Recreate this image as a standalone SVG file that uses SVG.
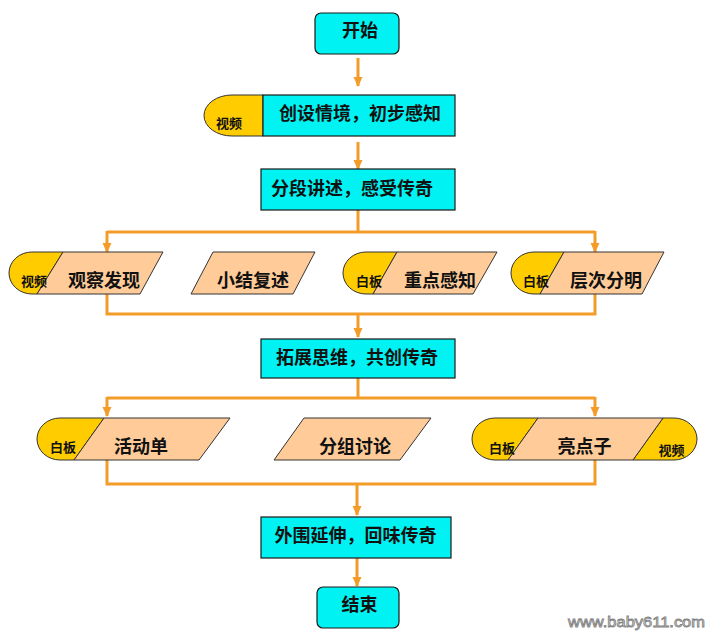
<svg xmlns="http://www.w3.org/2000/svg" width="715" height="639" viewBox="0 0 715 639">
<defs>
<marker id="ah" markerUnits="userSpaceOnUse" markerWidth="10" markerHeight="10" refX="9" refY="5" orient="auto">
<path d="M0,0.5 L10,5 L0,9.5 Z" fill="#F39C2A"/>
</marker>
<style>
.cy{fill:#00F2F2;stroke:#1a1a1a;stroke-width:1.2}
.pe{fill:#FFCC99;stroke:#333;stroke-width:1}
.ye{fill:#FFCC00;stroke:#333;stroke-width:1}
.t{font-family:"Noto Sans CJK SC","Noto Sans",sans-serif;font-weight:bold;font-size:18px;fill:#111;text-anchor:middle}
.s{font-family:"Noto Sans CJK SC","Noto Sans",sans-serif;font-weight:bold;font-size:13px;fill:#111;text-anchor:middle}
.c{fill:none;stroke:#F39C2A;stroke-width:3}
.a{fill:none;stroke:#F39C2A;stroke-width:3;marker-end:url(#ah)}
</style>
</defs>
<rect width="715" height="639" fill="#fff"/>
<g id="connectors">
<line class="a" x1="358" y1="58" x2="358" y2="86"/>
<line class="a" x1="358" y1="142" x2="358" y2="169"/>
<polyline class="c" points="358,210 358,232"/>
<polyline class="c" points="107,232 595,232"/>
<line class="a" x1="107" y1="231" x2="107" y2="252"/>
<line class="a" x1="595" y1="231" x2="595" y2="252"/>
<polyline class="c" points="107,294 107,314 595,314 595,294"/>
<line class="a" x1="358" y1="313" x2="358" y2="337"/>
<polyline class="c" points="358,378 358,398"/>
<polyline class="c" points="107,398 595,398"/>
<line class="a" x1="107" y1="397" x2="107" y2="416"/>
<line class="a" x1="595" y1="397" x2="595" y2="416"/>
<polyline class="c" points="107,460 107,484 595,484 595,460"/>
<line class="a" x1="357" y1="483" x2="357" y2="515"/>
<line class="a" x1="357" y1="558" x2="357" y2="586"/>
</g>
<g id="start">
<rect class="cy" x="315" y="13" width="84" height="41" rx="6"/>
<text class="t" x="360" y="36.5">开始</text>
</g>
<g id="n1">
<path class="ye" d="M263,95 L232,95 A28,20.5 0 0 0 232,136 L263,136 Z"/>
<rect class="cy" x="263" y="95" width="192" height="41"/>
<text class="s" x="229" y="128">视频</text>
<text class="t" x="360" y="120">创设情境，初步感知</text>
</g>
<g id="n2">
<rect class="cy" x="261" y="169" width="194" height="41"/>
<text class="t" x="352" y="194.5">分段讲述，感受传奇</text>
</g>
<g id="r1a">
<path class="ye" d="M63,252 L32,252 A23,21 0 0 0 32,294 L37,294 Z"/>
<path class="pe" d="M63,252 L163,252 L140,294 L37,294 Z"/>
<text class="s" x="34" y="285.5">视频</text>
<text class="t" x="104" y="286.5">观察发现</text>
</g>
<g id="r1b">
<path class="pe" d="M213,252 L315,252 L293,294 L191,294 Z"/>
<text class="t" x="253" y="286.5">小结复述</text>
</g>
<g id="r1c">
<path class="ye" d="M397,252 L366,252 A23,21 0 0 0 366,294 L373,294 Z"/>
<path class="pe" d="M397,252 L497,252 L473,294 L373,294 Z"/>
<text class="s" x="369" y="286">白板</text>
<text class="t" x="440" y="287">重点感知</text>
</g>
<g id="r1d">
<path class="ye" d="M564,252 L534,252 A23,21 0 0 0 534,294 L540,294 Z"/>
<path class="pe" d="M564,252 L664,252 L642,294 L540,294 Z"/>
<text class="s" x="536" y="286">白板</text>
<text class="t" x="606" y="287">层次分明</text>
</g>
<g id="n3">
<rect class="cy" x="261" y="339" width="194" height="39"/>
<text class="t" x="357" y="364">拓展思维，共创传奇</text>
</g>
<g id="r2a">
<path class="ye" d="M104,418 L60,418 A23,21 0 0 0 60,460 L74,460 Z"/>
<path class="pe" d="M104,418 L230,418 L199,460 L74,460 Z"/>
<text class="s" x="63" y="452">白板</text>
<text class="t" x="141" y="453">活动单</text>
</g>
<g id="r2b">
<path class="pe" d="M304,418 L431,418 L400,460 L274,460 Z"/>
<text class="t" x="355" y="453">分组讨论</text>
</g>
<g id="r2c">
<path class="ye" d="M538,418 L495,418 A23,21 0 0 0 495,460 L508,460 Z"/>
<path class="ye" d="M663,418 L674,418 A23,21 0 0 1 674,460 L633,460 Z"/>
<path class="pe" d="M538,418 L663,418 L633,460 L508,460 Z"/>
<text class="s" x="502" y="453">白板</text>
<text class="t" x="584.5" y="453">亮点子</text>
<text class="s" x="671.5" y="455">视频</text>
</g>
<g id="n4">
<rect class="cy" x="261" y="517" width="190" height="41"/>
<text class="t" x="355.5" y="541.5">外围延伸，回味传奇</text>
</g>
<g id="end">
<rect class="cy" x="317" y="587" width="82" height="41" rx="6"/>
<text class="t" x="359.5" y="611">结束</text>
</g>
<text x="568" y="627" font-family="Liberation Sans, Arial, sans-serif" font-size="15" textLength="137" lengthAdjust="spacingAndGlyphs" fill="#e8e8e8" stroke="#808080" stroke-width="0.8">www.baby611.com</text>
</svg>
